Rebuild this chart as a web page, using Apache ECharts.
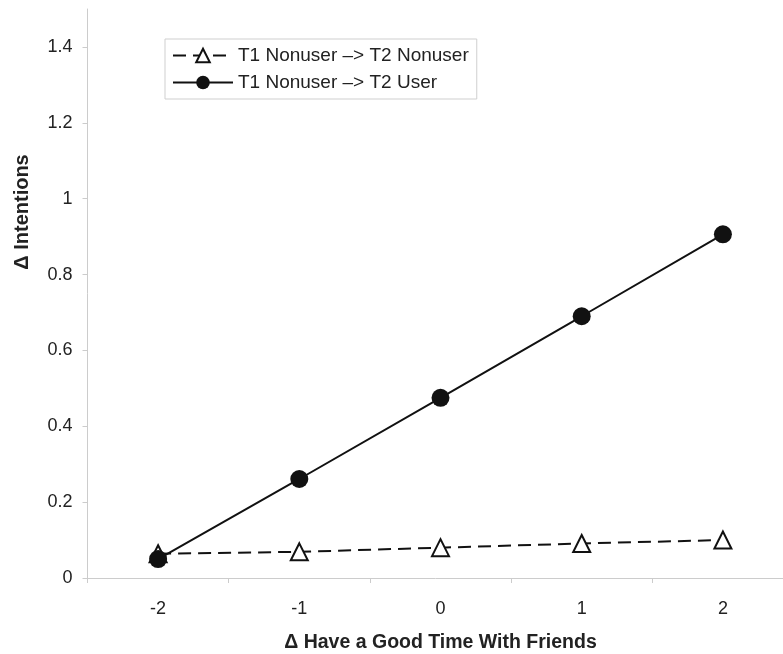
<!DOCTYPE html>
<html>
<head>
<meta charset="utf-8">
<script src="https://cdn.jsdelivr.net/npm/echarts@6/dist/echarts.min.js"></script>
<style>
html,body{margin:0;padding:0;background:#fff;}
#chart{width:783px;height:654px;}
</style>
</head>
<body>
<div id="chart"></div>
<script>
var categories = ['-2', '-1', '0', '1', '2'];
var nonuserNonuser = [0.064, 0.069, 0.080, 0.091, 0.100];
var nonuserUser = [0.050, 0.261, 0.475, 0.690, 0.906];
var seriesNames = ['T1 Nonuser \u2013> T2 Nonuser', 'T1 Nonuser \u2013> T2 User'];
var xAxisTitle = '\u0394 Have a Good Time With Friends';
var yAxisTitle = '\u0394 Intentions';

var FONT = '"Liberation Sans", Arial, sans-serif';
var chart = echarts.init(document.getElementById('chart'), null, {renderer: 'canvas'});
chart.setOption({
  animation: false,
  backgroundColor: '#ffffff',
  textStyle: {fontFamily: FONT},
  grid: {left: 87.5, width: 706, top: 9, height: 569, containLabel: false, outerBoundsMode: 'none'},
  legend: {
    orient: 'vertical',
    left: 165, top: 39,
    padding: [7, 8, 7, 7],
    itemWidth: 60, itemHeight: 17, itemGap: 8,
    borderColor: '#cfcfcf', borderWidth: 1,
    textStyle: {fontFamily: FONT, fontSize: 19, color: '#222'},
    data: seriesNames
  },
  xAxis: {
    type: 'category',
    data: categories,
    boundaryGap: true,
    name: xAxisTitle,
    nameLocation: 'middle',
    nameGap: 55,
    nameTextStyle: {fontFamily: FONT, fontSize: 19.5, fontWeight: 'bold', color: '#222'},
    axisLine: {lineStyle: {color: '#cccccc', width: 1}},
    axisTick: {show: true, length: 5, alignWithLabel: false, lineStyle: {color: '#cccccc'}},
    axisLabel: {fontFamily: FONT, fontSize: 18, color: '#222', margin: 22},
    splitLine: {show: false}
  },
  yAxis: {
    type: 'value',
    min: 0, max: 1.5, interval: 0.2,
    axisLine: {show: true, lineStyle: {color: '#cccccc', width: 1}},
    axisTick: {show: true, length: 5, lineStyle: {color: '#cccccc'}},
    axisLabel: {fontFamily: FONT, fontSize: 18, color: '#222', margin: 15, showMaxLabel: false},
    splitLine: {show: false}
  },
  graphic: [{
    type: 'text',
    x: 22, y: 212,
    rotation: Math.PI / 2,
    style: {
      text: yAxisTitle,
      fontFamily: FONT, fontSize: 20, fontWeight: 'bold', fill: '#222',
      align: 'center', verticalAlign: 'middle'
    }
  }],
  series: [{
    name: seriesNames[0],
    type: 'line',
    data: nonuserNonuser,
    symbol: 'triangle',
    symbolSize: 17,
    showAllSymbol: true,
    lineStyle: {color: '#111', width: 2, type: [13, 7]},
    itemStyle: {color: '#ffffff', borderColor: '#111', borderWidth: 2},
    z: 2
  }, {
    name: seriesNames[1],
    type: 'line',
    data: nonuserUser,
    symbol: 'circle',
    symbolSize: 18,
    showAllSymbol: true,
    lineStyle: {color: '#111', width: 2},
    itemStyle: {color: '#111', borderColor: '#111', borderWidth: 0},
    z: 3
  }]
});
</script>
</body>
</html>
